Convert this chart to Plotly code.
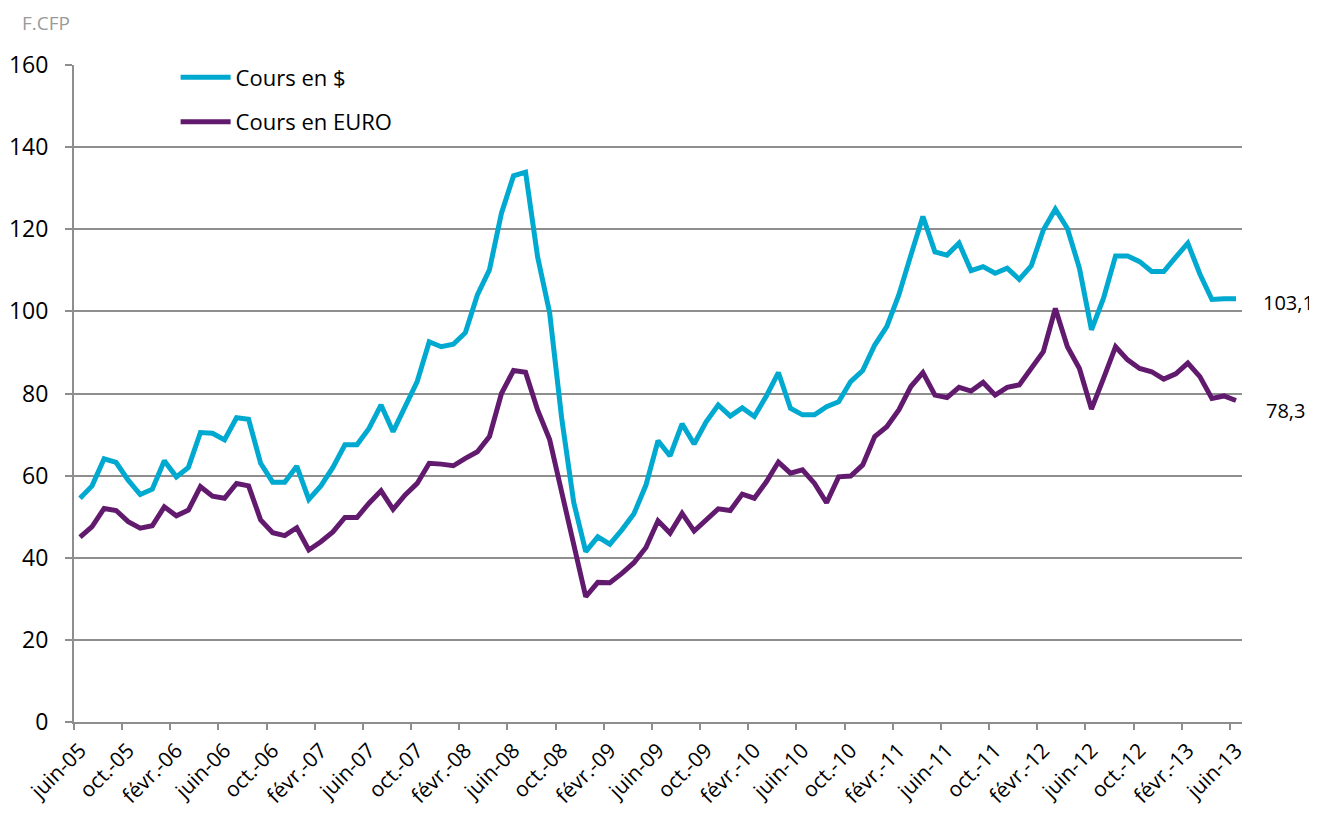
import plotly.graph_objects as go

# Monthly series, juin-05 .. juin-13 (97 months)
cours_usd = [
    54.5, 57.5, 64.1, 63.2, 58.9, 55.4, 56.7, 63.6, 59.7, 62.0, 70.5, 70.3, 68.7,
    74.1, 73.7, 63.0, 58.4, 58.4, 62.3, 54.2, 57.5, 62.0, 67.5, 67.5, 71.5, 77.2,
    70.7, 76.9, 82.9, 92.6, 91.4, 92.0, 94.8, 104.0, 110.1, 123.9, 133.0, 133.9,
    113.3, 99.7, 74.0, 53.5, 41.5, 45.1, 43.3, 46.8, 50.7, 57.7, 68.5, 64.8, 72.6,
    67.7, 73.1, 77.2, 74.5, 76.5, 74.4, 79.4, 85.1, 76.4, 74.8, 74.8, 76.8, 78.0,
    82.9, 85.6, 91.8, 96.3, 104.0, 113.7, 123.1, 114.5, 113.7, 116.6, 109.9, 110.9,
    109.3, 110.5, 107.8, 111.1, 119.8, 124.9, 120.2, 110.5, 95.5, 103.2, 113.5,
    113.5, 112.1, 109.7, 109.7, 113.2, 116.6, 109.1, 102.9, 103.1, 103.1,
]
cours_euro = [
    45.0, 47.6, 52.0, 51.5, 48.8, 47.2, 47.8, 52.4, 50.2, 51.6, 57.3, 55.0, 54.5,
    58.1, 57.5, 49.2, 46.1, 45.4, 47.3, 41.9, 43.9, 46.3, 49.8, 49.8, 53.3, 56.3,
    51.8, 55.3, 58.1, 63.0, 62.8, 62.4, 64.2, 65.8, 69.5, 80.0, 85.6, 85.2, 76.0,
    68.8, 56.0, 43.1, 30.5, 34.0, 33.9, 36.2, 38.8, 42.5, 49.0, 46.0, 50.8, 46.5,
    49.4, 51.9, 51.5, 55.5, 54.5, 58.5, 63.3, 60.6, 61.4, 58.1, 53.4, 59.7, 59.9,
    62.6, 69.5, 71.9, 76.0, 81.7, 85.1, 79.6, 79.0, 81.5, 80.6, 82.7, 79.6, 81.5,
    82.1, 86.1, 90.2, 100.7, 91.4, 86.1, 76.2, 83.7, 91.4, 88.2, 86.1, 85.3, 83.5,
    84.8, 87.4, 84.1, 78.8, 79.4, 78.3,
]
tick_labels = [
    "juin-05", "oct.-05", "févr.-06", "juin-06", "oct.-06", "févr.-07", "juin-07",
    "oct.-07", "févr.-08", "juin-08", "oct.-08", "févr.-09", "juin-09", "oct.-09",
    "févr.-10", "juin-10", "oct.-10", "févr.-11", "juin-11", "oct.-11", "févr.-12",
    "juin-12", "oct.-12", "févr.-13", "juin-13",
]
series_names = ["Cours en $", "Cours en EURO"]
end_labels = ["103,1", "78,3"]

x = list(range(len(cours_usd)))
tick_pos = list(range(0, len(cours_usd), 4))
minor_pos = [p - 0.5 for p in tick_pos]

BLUE = "#00A9CF"
PURPLE = "#621A6E"
GRID = "#8E8E8E"
FONT = "Open Sans"

fig = go.Figure()
fig.add_trace(go.Scatter(x=x, y=cours_usd, mode="lines", name=series_names[0],
                         legendgroup="a",
                         line=dict(color=BLUE, width=5, shape="linear")))
fig.add_trace(go.Scatter(x=x, y=cours_euro, mode="lines", name=series_names[1],
                         legendgroup="b",
                         line=dict(color=PURPLE, width=5, shape="linear")))

fig.add_annotation(x=x[-1], y=cours_usd[-1], text=end_labels[0], showarrow=False,
                   xanchor="left", xshift=25, yshift=-4,
                   font=dict(family=FONT, size=20, color="#000000"))
fig.add_annotation(x=x[-1], y=cours_euro[-1], text=end_labels[1], showarrow=False,
                   xanchor="left", xshift=28, yshift=-10,
                   font=dict(family=FONT, size=20, color="#000000"))
fig.add_annotation(xref="paper", yref="paper", x=-0.046, y=1.064, text="F.CFP",
                   showarrow=False, xanchor="left", yanchor="middle",
                   font=dict(family=FONT, size=19, color="#9A9A9A"))

# The page body has an 8px margin, so the figure is sized to fit the window.
fig.update_layout(
    width=1309, height=808,
    margin=dict(l=66, r=75, t=57, b=94, autoexpand=False),
    paper_bgcolor="white", plot_bgcolor="white",
    font=dict(family=FONT, color="#000000"),
    showlegend=True,
    legend=dict(x=0.087, y=1.013, xanchor="left", yanchor="top",
                bgcolor="rgba(0,0,0,0)", tracegroupgap=13, itemwidth=50,
                font=dict(family=FONT, size=22, color="#000000")),
    xaxis=dict(
        range=[-0.5, len(x) - 0.5], automargin=False,
        tickmode="array", tickvals=tick_pos, ticktext=tick_labels,
        tickangle=-45, ticks="", showgrid=False,
        showline=True, linecolor=GRID, linewidth=2,
        ticklabelstandoff=6,
        tickfont=dict(family=FONT, size=21, color="#000000"),
        minor=dict(tickmode="array", tickvals=minor_pos, ticks="outside",
                   ticklen=6, tickwidth=2, tickcolor=GRID, showgrid=False),
        zeroline=False,
    ),
    yaxis=dict(
        range=[0, 160], tick0=0, dtick=20, automargin=False,
        showgrid=True, gridcolor=GRID, gridwidth=2,
        showline=True, linecolor=GRID, linewidth=2,
        ticks="outside", ticklen=7, tickwidth=2, tickcolor=GRID,
        ticklabelstandoff=12,
        tickfont=dict(family=FONT, size=23, color="#000000"),
        zeroline=False,
    ),
)

fig.write_html("out.html")
